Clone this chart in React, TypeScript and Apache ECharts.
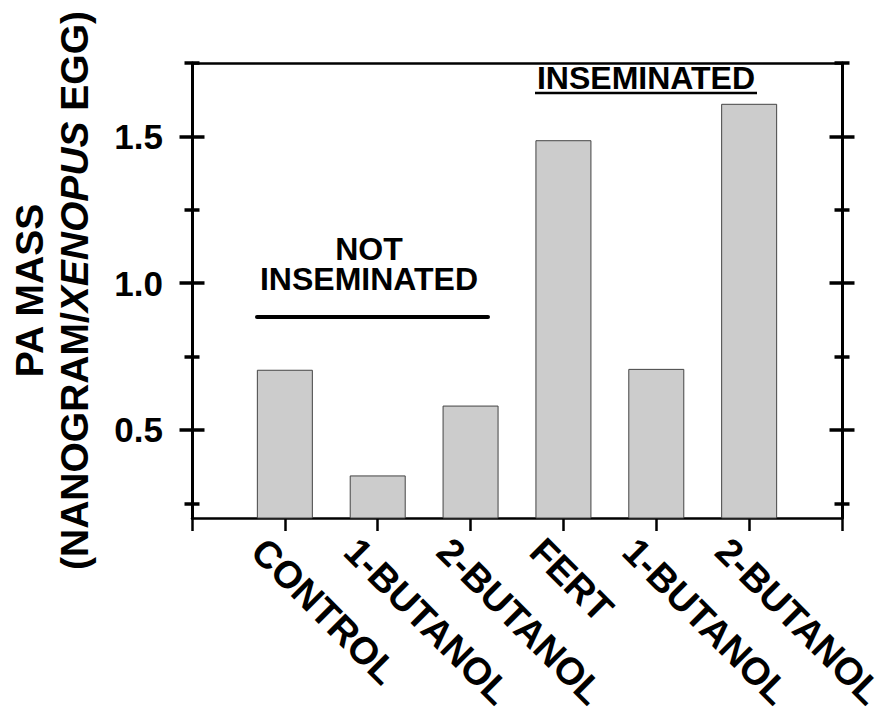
import React, { useEffect, useRef } from 'react';
import * as echarts from 'echarts';

const categories = ['', 'CONTROL', '1-BUTANOL', '2-BUTANOL', 'FERT', '1-BUTANOL', '2-BUTANOL', ''];
const paMass = [null, 0.705, 0.345, 0.583, 1.487, 0.708, 1.611, null];
const yMin = 0.2;
const yMax = 1.75;
const majorTickValues = [0.5, 1.0, 1.5];
const minorTickValues = [0.25, 0.75, 1.25, 1.75];
const groupNotInseminated = 'NOT\nINSEMINATED';
const groupInseminated = 'INSEMINATED';

const FONT = '"Liberation Sans", Arial, Helvetica, sans-serif';

function hiddenY(position: string, extra: any) {
  return {
    type: 'value',
    position,
    min: yMin,
    max: yMax,
    splitLine: { show: false },
    axisLine: { show: false },
    axisTick: { show: false },
    axisLabel: { show: false },
    ...extra,
  };
}

function tickY(position: string, offset: number, length: number, values: number[]) {
  return hiddenY(position, {
    offset,
    axisTick: {
      show: true,
      inside: false,
      length,
      customValues: values,
      lineStyle: { color: '#000', width: 3.5 },
    },
  });
}

export default function App() {
  const ref = useRef<HTMLDivElement>(null);
  useEffect(() => {
    if (!ref.current) return;
    const chart = echarts.init(ref.current, undefined, { renderer: 'svg' });
    chart.setOption({
      animation: false,
      backgroundColor: '#ffffff',
      grid: { left: 192, right: 44, top: 63, bottom: 197, containLabel: false, outerBoundsMode: 'none' },
      xAxis: [
        {
          type: 'category',
          position: 'bottom',
          data: categories,
          boundaryGap: false,
          axisLine: { show: true, lineStyle: { color: '#000', width: 2.5 } },
          axisTick: { show: true, interval: 0, length: 13, lineStyle: { color: '#000', width: 2.5 } },
          axisLabel: {
            interval: 0,
            rotate: -45,
            align: 'left',
            verticalAlign: 'top',
            lineHeight: 76,
            margin: 0,
            color: '#000',
            fontFamily: FONT,
            fontWeight: 'bold',
            fontSize: 38,
            hideOverlap: false,
          },
          splitLine: { show: false },
        },
        {
          type: 'category',
          position: 'top',
          data: categories,
          boundaryGap: false,
          axisLine: { show: true, lineStyle: { color: '#000', width: 2.5 } },
          axisTick: { show: false },
          axisLabel: { show: false },
          splitLine: { show: false },
        },
      ],
      yAxis: [
        hiddenY('left', {
          axisLine: { show: true, lineStyle: { color: '#000', width: 3 } },
          axisLabel: {
            show: true,
            customValues: majorTickValues,
            margin: 29,
            color: '#000',
            fontFamily: FONT,
            fontWeight: 'bold',
            fontSize: 35,
            formatter: (v: number) => v.toFixed(1),
          },
          name: 'PA MASS\n(NANOGRAM/{i|XENOPUS} EGG)',
          nameLocation: 'middle',
          nameRotate: 90,
          nameGap: 95,
          nameTextStyle: {
            color: '#000',
            fontFamily: FONT,
            fontWeight: 'bold',
            fontSize: 39,
            lineHeight: 45,
            align: 'center',
            rich: {
              i: {
                color: '#000',
                fontFamily: FONT,
                fontWeight: 'bold',
                fontStyle: 'italic',
                fontSize: 39,
                lineHeight: 45,
              },
            },
          },
        }),
        tickY('left', -12.5, 25, majorTickValues),
        tickY('left', -7.5, 15, minorTickValues),
        hiddenY('right', {
          axisLine: { show: true, lineStyle: { color: '#000', width: 3 } },
        }),
        tickY('right', -12.5, 25, majorTickValues),
        tickY('right', -7.5, 15, minorTickValues),
      ],
      series: [
        {
          type: 'bar',
          xAxisIndex: 0,
          yAxisIndex: 0,
          data: paMass,
          barWidth: 56,
          itemStyle: { color: '#cccccc', borderColor: '#444444', borderWidth: 1 },
        },
      ],
      graphic: [
        {
          type: 'text',
          x: 369,
          y: 264,
          style: {
            text: groupNotInseminated,
            fill: '#000',
            font: `bold 32px ${FONT}`,
            lineHeight: 30,
            textAlign: 'center',
            textVerticalAlign: 'middle',
          },
        },
        {
          type: 'line',
          shape: { x1: 257, y1: 317, x2: 488, y2: 317 },
          style: { stroke: '#000', lineWidth: 4, lineCap: 'round' },
        },
        {
          type: 'text',
          x: 646,
          y: 78,
          style: {
            text: groupInseminated,
            fill: '#000',
            font: `bold 32px ${FONT}`,
            textAlign: 'center',
            textVerticalAlign: 'middle',
          },
        },
        {
          type: 'line',
          shape: { x1: 535, y1: 93, x2: 757, y2: 93 },
          style: { stroke: '#000', lineWidth: 2.5 },
        },
      ],
    });
    return () => chart.dispose();
  }, []);
  return (
    <div
      ref={ref}
      style={{ position: 'fixed', left: 0, top: 0, width: 886, height: 715, background: '#fff' }}
    />
  );
}
